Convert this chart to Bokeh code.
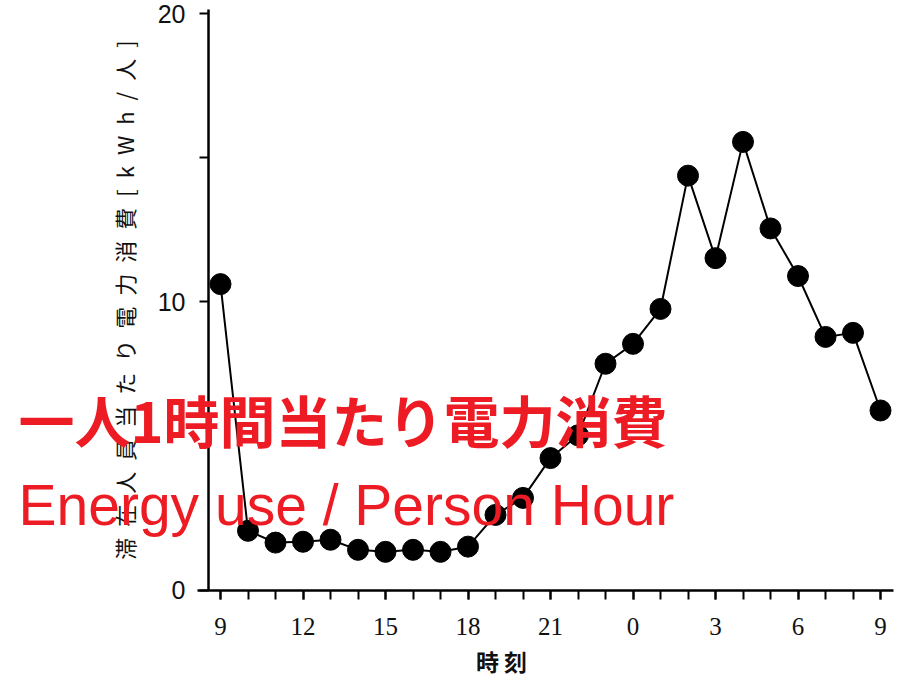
from bokeh.plotting import figure
from bokeh.models import FixedTicker, Label, Range1d, ColumnDataSource
from bokeh.embed import file_html
from bokeh.resources import INLINE

# ---- data (hour index 0 = 9:00, 24 = 9:00 next day) ----
hour_index = list(range(25))
energy = [10.62, 2.07, 1.66, 1.69, 1.76, 1.41, 1.34, 1.41, 1.34, 1.52,
          2.62, 3.21, 4.59, 5.38, 7.86, 8.55, 9.76, 14.38, 11.52, 15.55,
          12.55, 10.90, 8.79, 8.93, 6.24]
x_major_ticks = [0, 3, 6, 9, 12, 15, 18, 21, 24]
x_tick_labels = ["9", "12", "15", "18", "21", "0", "3", "6", "9"]
y_major_ticks = [0, 5, 10, 15, 20]
y_tick_labels = ["0", "", "10", "", "20"]

RED = "#ED1C24"
JP = "Noto Sans CJK JP"

src = ColumnDataSource(dict(x=hour_index, y=energy))

p = figure(width=900, height=680, output_backend="svg", toolbar_location=None,
           x_range=Range1d(-8.0, 24.727), y_range=Range1d(-3.1196, 20.4506),
           min_border_left=0, min_border_right=0, min_border_top=0,
           min_border_bottom=0)
p.outline_line_color = None
p.xgrid.visible = False
p.ygrid.visible = False
p.background_fill_color = "white"
p.border_fill_color = "white"

p.line("x", "y", source=src, line_color="black", line_width=2)
p.scatter("x", "y", source=src, size=21, fill_color="black", line_color="black")

# x axis
xa = p.xaxis[0]
xa.fixed_location = 0
xa.bounds = (-0.836, 24.473)
xa.ticker = FixedTicker(ticks=x_major_ticks, minor_ticks=hour_index)
xa.major_label_overrides = {t: l for t, l in zip(x_major_ticks, x_tick_labels)}
xa.axis_line_color = "black"
xa.axis_line_width = 2.5
xa.major_tick_in = 0
xa.major_tick_out = 9
xa.minor_tick_in = 0
xa.minor_tick_out = 9
xa.major_tick_line_width = 2
xa.minor_tick_line_width = 2
xa.major_tick_line_color = "black"
xa.minor_tick_line_color = "black"
xa.major_label_text_font = "Liberation Serif"
xa.major_label_text_font_size = "25px"
xa.major_label_text_color = "#111111"
xa.major_label_standoff = 19

# y axis
ya = p.yaxis[0]
ya.fixed_location = -0.436
ya.bounds = (0, 20.139)
ya.ticker = FixedTicker(ticks=y_major_ticks, minor_ticks=[])
ya.major_label_overrides = {t: l for t, l in zip(y_major_ticks, y_tick_labels)}
ya.axis_line_color = "black"
ya.axis_line_width = 2.5
ya.major_tick_in = 0
ya.major_tick_out = 9
ya.major_tick_line_width = 2
ya.major_tick_line_color = "black"
ya.major_label_text_font = "Liberation Sans"
ya.major_label_text_font_size = "25px"
ya.major_label_text_color = "#111111"
ya.major_label_standoff = 14
sp = "\u2002"
ya.axis_label = sp.join(list("滞在人員当たり電力消費[kWh/人]"))
ya.axis_label_text_font = JP
ya.axis_label_text_font_size = "22px"
ya.axis_label_text_font_style = "normal"
ya.axis_label_text_color = "#111111"
ya.axis_label_standoff = 15

# x axis title
p.add_layout(Label(x=501, y=20, x_units="screen", y_units="screen",
                   text="時 刻", text_font=JP, text_font_size="23px",
                   text_font_style="bold", text_color="#111111",
                   text_align="center", text_baseline="middle"))

# red overlay titles
p.add_layout(Label(x=18, y=262, x_units="screen", y_units="screen",
                   text="一人1時間当たり電力消費", text_font=JP,
                   text_font_size="56px", text_font_style="bold",
                   text_color=RED, text_align="left", text_baseline="middle"))
p.add_layout(Label(x=18, y=176, x_units="screen", y_units="screen",
                   text="Energy use / Person Hour", text_font="Liberation Sans",
                   text_font_size="57px", text_color=RED,
                   text_align="left", text_baseline="alphabetic"))

open("out.html", "w").write(file_html(p, INLINE))
